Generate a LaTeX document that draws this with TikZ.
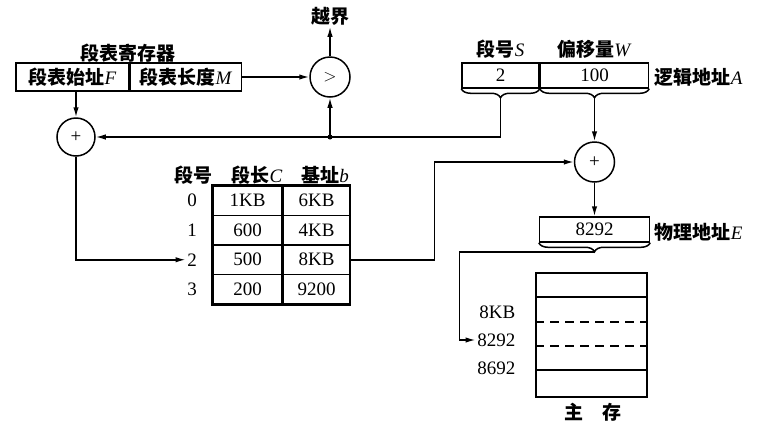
\documentclass[tikz,border=0pt]{standalone}
\usepackage{fontspec}
\setmainfont{Liberation Serif}
\newfontfamily\cjk{Noto Sans CJK SC}
\usetikzlibrary{arrows,arrows.meta,positioning,decorations.pathreplacing,calc}
\newcommand\zh[1]{{\cjk\bfseries #1}}

\begin{document}
\begin{tikzpicture}[>={Latex[length=10pt,width=5.5pt]}, x=1pt, y=-1pt, line width=1.5pt,
  font=\fontsize{19}{22}\selectfont]
  \tikzset{cell/.style={draw, rectangle, inner sep=0pt, minimum height=28pt},
    adder/.style={draw, circle, inner sep=0pt, minimum size=40pt},
    lbl/.style={inner sep=1pt},
    brc/.style={decorate, decoration={brace, mirror, amplitude=9pt}},
    memdash/.style={dash pattern=on 9pt off 6pt}}
  \useasboundingbox (0,0) rectangle (765,437);

  % segment table register
  \node[lbl] (sregtitle) at (128,53) {\zh{段表寄存器}};
  \node[cell, minimum width=113pt] (regF) at (72.5,77) {\zh{段表始址}\textit{F}};
  \node[cell, minimum width=111pt, right=0pt of regF] (regM) {\zh{段表长度}\textit{M}};

  \node[adder] (gt) at (330,77) {$>$};
  \node[lbl] (over) at (330,16) {\zh{越界}};
  \node[adder, minimum size=38pt] (add1) at (76,137) {+};

  % logical address
  \node[cell, minimum width=77pt, minimum height=25pt] (segS) at (500.5,75.5) {2};
  \node[cell, minimum width=108pt, minimum height=25pt, right=0pt of segS] (offW) {100};
  \node[lbl, above=2pt of segS] (segStitle) {\zh{段号}\textit{S}};
  \node[lbl, above=2pt of offW] (offWtitle) {\zh{偏移量}\textit{W}};
  \node[lbl, anchor=west] (logA) at (653,77) {\zh{逻辑地址}\textit{A}};
  \draw[brc] (segS.south west) -- (segS.south east);
  \draw[brc] (offW.south west) -- (offW.south east);
  \coordinate (stip) at ($(segS.south)+(0,9)$);
  \coordinate (wtip) at ($(offW.south)+(0,9)$);

  \node[adder] (add2) at (offW |- 0,162) {+};

  % segment table
  \node[lbl] (hnum) at (193,175) {\zh{段号}};
  \node[lbl] (hlen) at (257,175) {\zh{段长}\textit{C}};
  \node[lbl] (hbase) at (325,175) {\zh{基址}\textit{b}};
  \foreach \len/\base [count=\i from 0] in {1KB/6KB,600/4KB,500/8KB,200/9200} {
    \node[cell, minimum width=69pt, minimum height=29.5pt] (lenC\i) at (247.5,200.75+29.5*\i) {\len};
    \node[cell, minimum width=66pt, minimum height=29.5pt, right=0pt of lenC\i] (baseb\i) {\base};
    \node[lbl] (num\i) at (192,200.75+29.5*\i) {\i};
  }
  \draw[line width=2pt] (lenC0.north west) rectangle (baseb3.south east);

  % physical address
  \node[cell, minimum width=110pt, minimum height=25pt] (phys) at (add2 |- 0,229.5) {8292};
  \node[lbl, anchor=west] (physE) at (653,232) {\zh{物理地址}\textit{E}};
  \draw[brc] (phys.south west) -- (phys.south east);
  \coordinate (ptip) at ($(phys.south)+(0,9)$);

  % main memory
  \node[draw, rectangle, minimum width=111pt, minimum height=124pt, inner sep=0pt] (mem) at (591.5,335) {};
  \foreach \y/\sty in {297/solid,322/memdash,346/memdash,370/solid}
    \draw[\sty, line width=1.3pt] (mem.west |- 0,\y) -- (mem.east |- 0,\y);
  \node[lbl, anchor=east] (m8kb) at (517,312) {8KB};
  \node[lbl, anchor=east] (m8292) at (517,340) {8292};
  \node[lbl, anchor=east] (m8692) at (517,368) {8692};
  \node[lbl] (mtitle) at (593,412) {\zh{主\quad 存}};

  % connectors
  \draw[->] (regM) -- (gt);
  \draw[->] (gt) -- (over);
  \draw[->] (add1 |- regF.south) -- (add1);
  \coordinate (jn) at (gt |- add1);
  \draw[->] (stip) |- (add1);
  \fill (jn) circle (2.5pt);
  \draw[->] (jn) -- (gt);
  \draw[->] (wtip) -- (add2);
  \draw[->] (add1) |- (num2);
  \draw[->] (baseb2.east) -- ++(84,0) |- (add2);
  \draw[->] (add2) -- (phys);
  \draw[->] (ptip) -- ++(-135,0) |- (m8292);
\end{tikzpicture}
\end{document}
